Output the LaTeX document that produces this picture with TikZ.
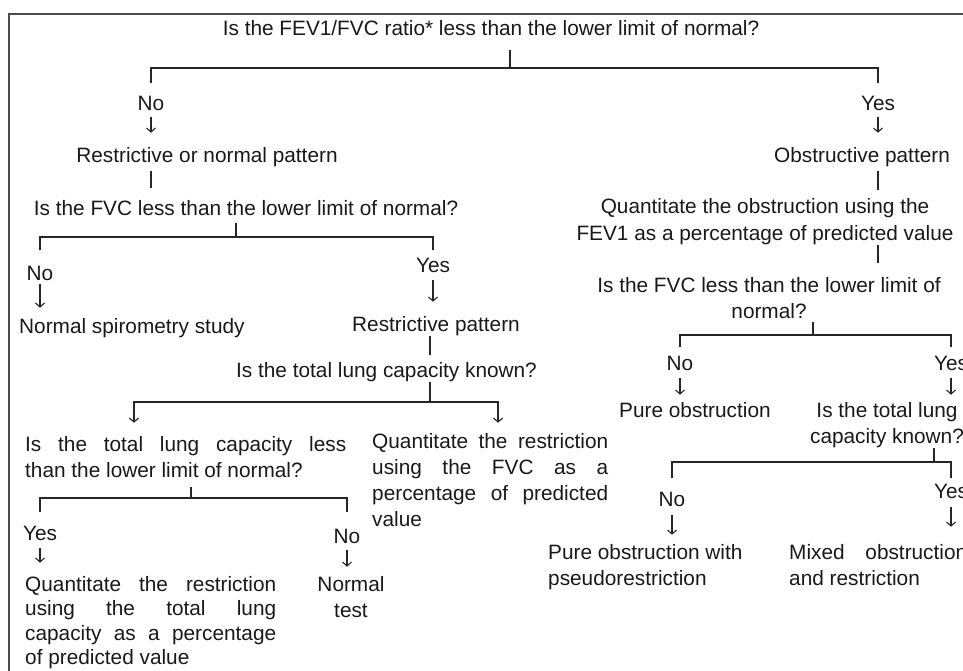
\documentclass[tikz,border=0pt]{standalone}
\usepackage{fontspec}
\setmainfont{Liberation Sans}
\usetikzlibrary{arrows.meta}
\tolerance=10000
\hbadness=10000

\begin{document}
\begin{tikzpicture}[x=1pt, y=-1pt,
  every node/.style={font=\fontsize{20.8}{26}\selectfont, inner sep=0pt, text=black!90},
  q/.style={anchor=base},
  lbl/.style={anchor=base},
  lft/.style={anchor=base west},
  jst/.style={anchor=base west, align=justify},
  ln/.style={draw=black!85, line width=1.1pt},
  arr/.style={ln, -{Straight Barb[length=4pt, width=9pt]}},
  frame/.style={draw=black!70, line width=1.5pt}
]
\useasboundingbox (0,0) rectangle (963,671);
\draw[frame] (9,690) |- (980,14);

% first question
\node[q] (q1) at (491,36) {Is the FEV1/FVC ratio* less than the lower limit of normal?};
\node[lbl] (no1) at (151,111) {No};
\node[lbl] (yes1) at (878,111) {Yes};

% restrictive side
\node[q] (rnp) at (207,163) {Restrictive or normal pattern};
\node[q] (q2) at (246,215) {Is the FVC less than the lower limit of normal?};
\node[lbl] (no2) at (40,280) {No};
\node[lbl] (yes2) at (433,272) {Yes};
\node[lft] (nss) at (19,333) {Normal spirometry study};
\node[lft] (rp) at (352,331) {Restrictive pattern};
\node[lft] (tlc) at (236,377) {Is the total lung capacity known?};
\node[jst, text width=321pt] (tlcl) at (25,451)
  {Is the total lung capacity less\linebreak than the lower limit of normal?};
\node[jst, text width=236pt] (qfvc) at (372,448)
  {Quantitate the restriction\linebreak using the FVC as a\linebreak percentage of predicted\linebreak value};
\node[lbl] (yesL) at (40,540) {Yes};
\node[lbl] (noL) at (347,543) {No};
\node[jst, text width=251pt, font=\fontsize{20.8}{24.5}\selectfont] (qtr) at (25,591)
  {Quantitate the restriction\linebreak using the total lung\linebreak capacity as a percentage\linebreak of predicted value};
\node[q, align=center] (nt) at (351,617) {Normal\\test};

% obstructive side
\node[q] (obp) at (862,163) {Obstructive pattern};
\node[q, align=center] (qobs) at (765,240) {Quantitate the obstruction using the\\FEV1 as a percentage of predicted value};
\node[q, align=center] (qfvc2) at (769,318) {Is the FVC less than the lower limit of\\normal?};
\node[lbl] (no3) at (680,370) {No};
\node[lbl] (yes3) at (951,370) {Yes};
\node[lft] (po) at (619,417) {Pure obstruction};
\node[q, align=center] (tlc2) at (887,443) {Is the total lung\\capacity known?};
\node[lbl] (no4) at (672,506) {No};
\node[lbl] (yes4) at (951,498) {Yes};
\node[lft, align=left] (por) at (548,585) {Pure obstruction with\\pseudorestriction};
\node[jst, text width=178pt] (mor) at (789,559) {Mixed obstruction\linebreak and restriction};

% forks
\coordinate (f1) at (510,68);
\coordinate (f2) at (236,237);
\coordinate (f3) at (430,402);
\coordinate (a3l) at (134,402);
\coordinate (a3r) at (498,402);
\coordinate (f4) at (191,498);
\coordinate (f5) at (813,335);
\coordinate (f6) at (934,462);

\draw[ln, shorten <=14pt] (f1 |- q1.south) -- (f1);
\draw[ln] ([yshift=13pt]no1.north) |- (f1) -| ([yshift=13pt]yes1.north);
\draw[arr, shorten <=6pt, shorten >=15pt] (no1.south) -- (no1.south |- rnp.north);
\draw[arr, shorten <=6pt, shorten >=15pt] (yes1.south) -- (yes1.south |- obp.north);

\draw[ln, shorten <=3pt, shorten >=12pt] (no1.south |- rnp.south) -- (no1.south |- q2.north);
\draw[ln, shorten <=8pt] (f2 |- q2.south) -- (f2);
\draw[ln] ([yshift=15pt]no2.north) |- (f2) -| ([yshift=7pt]yes2.north);
\draw[arr, shorten <=4pt, shorten >=10pt] (no2.south) -- (no2.south |- nss.north);
\draw[arr, shorten <=8pt, shorten >=14pt] (yes2.south) -- (yes2.south |- rp.north);

\draw[ln, shorten >=7pt] (f3 |- rp.south) -- (f3 |- tlc.north);
\draw[ln] (f3 |- tlc.south) -- (f3);
\draw[arr, shorten >=13pt] (f3) -- (a3l) -- (a3l |- tlcl.north);
\draw[arr, shorten >=10pt] (f3) -- (a3r) -- (a3r |- qfvc.north);

\draw[ln, shorten <=10pt] (f4 |- tlcl.south) -- (f4);
\draw[ln] ([yshift=13pt]yesL.north) |- (f4) -| ([yshift=16pt]noL.north);
\draw[arr, shorten <=8pt, shorten >=13pt] (yesL.south) -- (yesL.south |- qtr.north);
\draw[arr, shorten <=7pt, shorten >=9pt] (noL.south) -- (noL.south |- nt.north);

\draw[ln, shorten <=3pt, shorten >=9pt] (yes1.south |- obp.south) -- (yes1.south |- qobs.north);
\draw[ln, shorten >=14pt] (yes1.south |- qobs.south) -- (yes1.south |- qfvc2.north);
\draw[ln, shorten <=4pt] (f5 |- qfvc2.south) -- (f5);
\draw[ln] ([yshift=8pt]no3.north) |- (f5) -| ([yshift=8pt]yes3.north);
\draw[arr, shorten <=8pt, shorten >=7pt] (no3.south) -- (no3.south |- po.north);
\draw[arr, shorten <=8pt, shorten >=7pt] (yes3.south) -- (yes3.south |- tlc2.north);

\draw[ln] (f6 |- tlc2.south) -- (f6);
\draw[ln] ([yshift=13pt]no4.north) |- (f6) -| ([yshift=5pt]yes4.north);
\draw[arr, shorten <=9pt, shorten >=9pt] (no4.south) -- (no4.south |- por.north);
\draw[arr, shorten <=9pt, shorten >=17pt] (yes4.south) -- (yes4.south |- mor.north);
\end{tikzpicture}
\end{document}
